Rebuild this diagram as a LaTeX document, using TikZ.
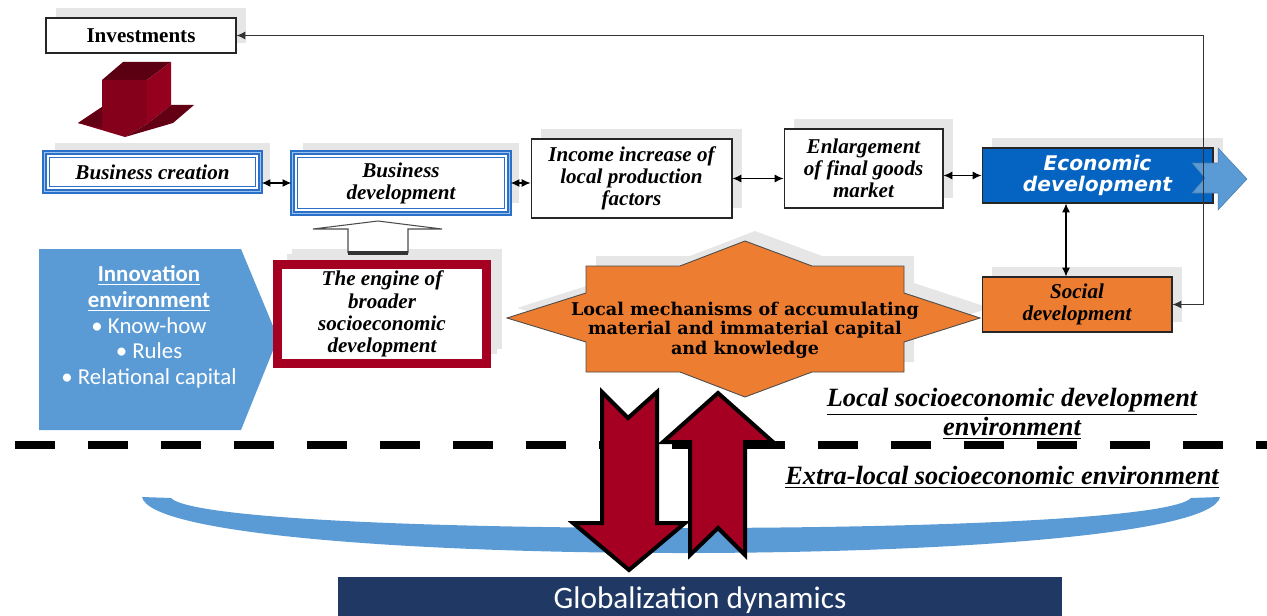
\documentclass[tikz,border=0pt]{standalone}
\usepackage{fontspec}
\setmainfont{Liberation Serif}
\newfontfamily\carlito{Carlito}
\newfontfamily\dvsans{DejaVu Sans}
\newfontfamily\dvserif{DejaVu Serif}
\usetikzlibrary{arrows.meta,shadows}
\definecolor{bizblue}{HTML}{2A6FC8}
\definecolor{bizlight}{HTML}{9CC3EE}
\definecolor{econblue}{HTML}{0563C1}
\definecolor{lightblue}{HTML}{5B9BD5}
\definecolor{orangefill}{HTML}{ED7D31}
\definecolor{darkred}{HTML}{A50021}
\definecolor{navy}{HTML}{203864}
\definecolor{shgray}{HTML}{E6E6E6}
\tikzset{
  boxshadow/.style={drop shadow={shadow xshift=0.2cm,shadow yshift=0.2cm,fill=shgray,opacity=1}},
  box/.style={draw=black!85, fill=white, line width=0.6pt, inner sep=0pt, align=center,
    font=\bfseries\itshape\fontsize{12}{12.6}\selectfont, boxshadow},
  bizbox/.style={box, draw=bizblue, line width=1.3pt, double=bizlight, double distance=0.6pt},
  dbl/.style={<->, line width=0.6pt},
  redarrow/.style={fill=darkred, draw=black, line width=0.08cm, line join=miter},
  envlabel/.style={align=center, font=\bfseries\itshape\fontsize{15}{13}\selectfont}
}
\begin{document}
\begin{tikzpicture}[x=0.02cm, y=-0.02cm, >={Latex[length=5pt,width=4.5pt]}]
\useasboundingbox (0,0) rectangle (1267,615);
% bowl and border line
\fill[lightblue] (142,497) -- (171,498) .. controls (190,518) and (420,528) .. (681,528)
  .. controls (942,528) and (1172,518) .. (1191,498) -- (1220,497)
  .. controls (1212,535) and (942,553) .. (681,553)
  .. controls (420,553) and (150,535) .. cycle;
\draw[line width=0.16cm, dash pattern=on 0.8cm off 0.66cm] (15,445) -- (1267,445);
\node[fill=navy, minimum width=14.48cm, minimum height=0.92cm, inner sep=0pt,
  text=white, font=\carlito\fontsize{17.8}{20}\selectfont] (globe) at (700,600) {Globalization dynamics};
% exchange with the outside
\draw[redarrow] (602,392) -- (628,418) -- (657,392) -- (657,523) -- (685,523) -- (629,570)
  -- (573,523) -- (602,523) -- cycle;
\draw[redarrow] (718,393) -- (773,442) -- (745,442) -- (745,555) -- (718,528) -- (690,555)
  -- (690,442) -- (663,442) -- cycle;

% top row
\node[box, minimum width=3.8cm, minimum height=0.7cm, font=\bfseries\fontsize{12}{12.6}\selectfont]
  (invest) at (141,35.5) {Investments};
\fill[darkred!55!black] (102,80) -- (123,62) -- (171,62) -- (147,80) -- cycle;
\fill[darkred!80!black] (102,80) -- (147,80) -- (147,124) -- (125,137) -- (78,123) -- (102,107) -- cycle;
\fill[darkred!60!black] (78,123) -- (102,107) -- (102,128) -- cycle;
\fill[darkred!90!black] (147,80) -- (171,62) -- (171,105) -- (147,124) -- cycle;
\fill[darkred!60!black] (147,124) -- (171,105) -- (194,105) -- (173,123) -- (125,137) -- cycle;

\node[bizbox, minimum width=4.32cm, minimum height=0.78cm] (bcreate) at (152.5,172) {Business creation};
\node[bizbox, minimum width=4.34cm, minimum height=1.22cm] (bdev) at (401,183) {Business\\development};
\foreach \n in {bcreate,bdev}
  \draw[bizblue, line width=0.5pt] ([shift={(6,6)}]\n.north west) rectangle ([shift={(-6,-6)}]\n.south east);
\node[box, minimum width=4.02cm, minimum height=1.58cm] (income) at (631.5,178.5)
  {Income increase of\\local production\\factors};
\node[box, minimum width=3.18cm, minimum height=1.58cm] (enlarge) at (863.5,168.5)
  {Enlargement\\of final goods\\market};
\node[box, fill=econblue, text=white, minimum width=4.62cm, minimum height=1.1cm,
  font=\dvsans\bfseries\itshape\fontsize{11.5}{12}\selectfont] (econ) at (1097.5,175.5)
  {Economic\\development};
\fill[lightblue, draw=lightblue!80!black, line width=0.3pt] (1192,163) -- (1218,163) -- (1218,148)
  -- (1247,179) -- (1218,210) -- (1218,193) -- (1192,193) -- (1205,178) -- cycle;

% lower row
\fill[lightblue] (39,249) -- (241,249) -- (278,338) -- (241,430) -- (39,430) -- cycle;
\node[align=center, text=white, font=\carlito\fontsize{13}{14.6}\selectfont] (innov) at (149,327)
  {\textbf{\underline{Innovation}}\\\textbf{\underline{environment}}\\• Know-how\\• Rules\\• Relational capital};
\node[box, draw=darkred, line width=0.18cm, minimum width=4.2cm, minimum height=2cm,
  font=\bfseries\itshape\fontsize{12}{12.7}\selectfont,
  drop shadow={shadow xshift=0.3cm,shadow yshift=0.3cm,fill=shgray,opacity=1}] (engine) at (382,314)
  {The engine of\\broader\\socioeconomic\\development};
\draw[fill=white, draw=black!70, line width=0.6pt] (348,253) -- (348,229) -- (313,229) -- (378,221)
  -- (442,229) -- (408,229) -- (408,253);
\draw[line width=2pt, black!80] (348,253) -- (408,253);

\fill[shgray, shift={(10,-10)}] (507,318) -- (586,293) -- (586,266) -- (680,266) -- (745,241) -- (812,266)
  -- (904,266) -- (904,293) -- (980,318) -- (904,342) -- (904,372) -- (812,372) -- (745,397)
  -- (680,372) -- (586,372) -- (586,342) -- cycle;
\draw[fill=orangefill, draw=black!70, line width=0.5pt] (507,318) -- (586,293) -- (586,266) -- (680,266)
  -- (745,241) -- (812,266) -- (904,266) -- (904,293) -- (980,318) -- (904,342) -- (904,372)
  -- (812,372) -- (745,397) -- (680,372) -- (586,372) -- (586,342) -- cycle;
\node[align=center, font=\dvserif\bfseries\fontsize{10}{11.2}\selectfont] (mech) at (745,330)
  {Local mechanisms of accumulating\\material and immaterial capital\\and knowledge};
\node[box, fill=orangefill, minimum width=3.8cm, minimum height=1.1cm] (social) at (1077,304.5)
  {Social\\development};

% links
\draw[dbl] (bcreate.east |- bdev.west) -- (bdev.west);
\draw[dbl] (bdev.east) -- (bdev.east -| income.west);
\draw[dbl] (income.east) -- (income.east -| enlarge.west);
\draw[dbl] (enlarge.east |- econ.west) -- (econ.west);
\draw[dbl] ([xshift=-0.22cm]social.north |- econ.south) -- ([xshift=-0.22cm]social.north);
\draw[dbl, black!80] (social.east) -- ++(31,0) |- (invest.east);

\node[envlabel] (localenv) at (1012,414) {\underline{Local socioeconomic development}\\\underline{environment}};
\node[envlabel] (extraenv) at (1002,477) {\underline{Extra-local socioeconomic environment}};
\end{tikzpicture}
\end{document}
